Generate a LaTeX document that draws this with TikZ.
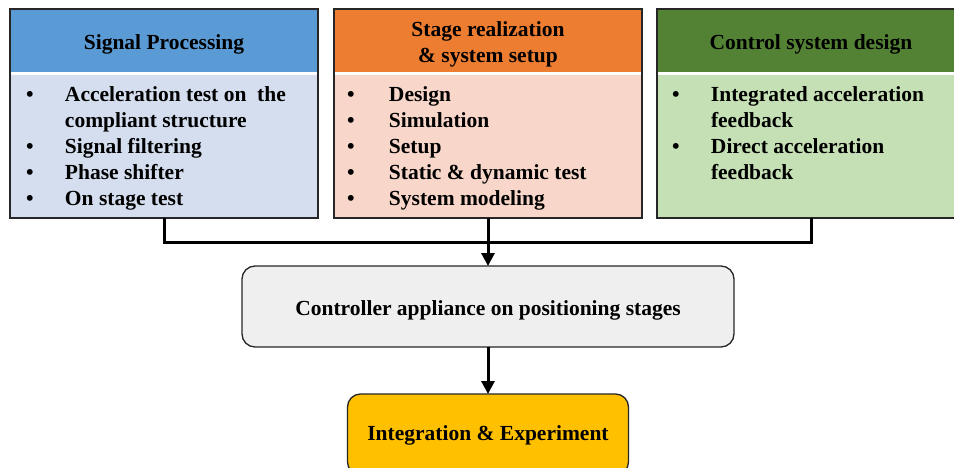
\documentclass[tikz,border=0pt]{standalone}
\usepackage{fontspec}
\setmainfont{Liberation Serif}
\usetikzlibrary{arrows.meta}
\definecolor{spHead}{HTML}{5B9BD5}
\definecolor{spBody}{HTML}{D4DEEF}
\definecolor{srHead}{HTML}{ED7D31}
\definecolor{srBody}{HTML}{F8D6CA}
\definecolor{csHead}{HTML}{548235}
\definecolor{csBody}{HTML}{C5E0B4}
\definecolor{ctrlFill}{HTML}{EFEFEF}
\definecolor{intFill}{HTML}{FFC000}
\definecolor{frameCol}{HTML}{262626}

\begin{document}
\begin{tikzpicture}[x=1pt,y=-1pt,
  txt/.style={font=\fontsize{21.5pt}{26pt}\selectfont\bfseries, inner sep=0pt, outer sep=0pt},
  band/.style={draw=none, inner sep=0pt, outer sep=0pt, anchor=north west, minimum width=308pt},
  hdrband/.style={band, minimum height=63pt},
  bodyband/.style={band, minimum height=143pt},
  frame/.style={draw=frameCol, line width=1.5pt},
  conn/.style={line width=3pt, line join=miter},
  tip/.style={-{Triangle[length=13pt, width=13pt]}},
  roundbox/.style={draw=frameCol, line width=1.3pt, rounded corners=13pt,
    inner sep=0pt, outer sep=0pt}]
\useasboundingbox (0,0) rectangle (954,468);
\clip (0,0) rectangle (954,468);

% ---- Signal Processing ----
\node[hdrband, fill=spHead] (sph) at (10,9) {};
\node[bodyband, fill=spBody] (spb) at (10,75) {};
\draw[frame] (sph.north west) rectangle (spb.south east);
\node[txt, anchor=base] (spt) at (164,50) {Signal Processing};
\node[txt, anchor=base west] (spl) at (26,102) {\begin{tabular}[t]{@{}p{39pt}@{}l@{}}
\textbullet & Acceleration test on~ the\\
 & compliant structure\\
\textbullet & Signal filtering\\
\textbullet & Phase shifter\\
\textbullet & On stage test
\end{tabular}};

% ---- Stage realization & system setup ----
\node[hdrband, fill=srHead] (srh) at (334,9) {};
\node[bodyband, fill=srBody] (srb) at (334,75) {};
\draw[frame] (srh.north west) rectangle (srb.south east);
\node[txt, anchor=base] (srt) at (488,36.7) {\begin{tabular}[t]{@{}c@{}}
Stage realization\\
\& system setup
\end{tabular}};
\node[txt, anchor=base west] (srl) at (347,102) {\begin{tabular}[t]{@{}p{42pt}@{}l@{}}
\textbullet & Design\\
\textbullet & Simulation\\
\textbullet & Setup\\
\textbullet & Static \& dynamic test\\
\textbullet & System modeling
\end{tabular}};

% ---- Control system design ----
\node[hdrband, fill=csHead] (csh) at (657,9) {};
\node[bodyband, fill=csBody] (csb) at (657,75) {};
\draw[frame] (csh.north west) rectangle (csb.south east);
\node[txt, anchor=base] (cst) at (811,50) {Control system design};
\node[txt, anchor=base west] (csl) at (672,102) {\begin{tabular}[t]{@{}p{39pt}@{}l@{}}
\textbullet & Integrated acceleration\\
 & feedback\\
\textbullet & Direct acceleration\\
 & feedback
\end{tabular}};

% ---- lower chain ----
\node[roundbox, fill=ctrlFill, minimum width=492pt, minimum height=81pt] (ctrl) at (488,306.5) {};
\node[txt, anchor=base] (ctrlt) at (488,315) {Controller appliance on positioning stages};
\node[roundbox, fill=intFill, minimum width=281pt, minimum height=81pt] (integ) at (488,434.5) {};
\node[txt, anchor=base] (integt) at (488,440) {Integration \& Experiment};

% ---- connectors ----
\coordinate (bus) at (488,242);
\draw[conn] (spb.south) |- (bus) -| (csb.south);
\draw[conn, tip] (srb.south) -- (ctrl.north);
\draw[conn, tip] (ctrl.south) -- (integ.north);
\end{tikzpicture}
\end{document}
